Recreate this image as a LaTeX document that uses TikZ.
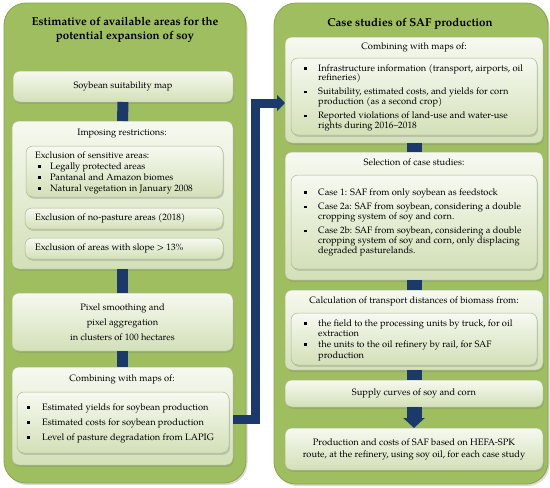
\documentclass[tikz,border=0pt]{standalone}
\usepackage{fontspec}
\setmainfont{texgyrepagella}[Extension=.otf,UprightFont=*-regular,BoldFont=*-bold,ItalicFont=*-italic,BoldItalicFont=*-bolditalic]
\usetikzlibrary{arrows.meta,shadows}
\definecolor{panelg}{HTML}{9EBE5F}
\definecolor{paneld}{HTML}{86A64B}
\definecolor{boxtop}{HTML}{F6F9F0}
\definecolor{boxbot}{HTML}{D3E0B8}
\definecolor{boxline}{HTML}{A9B98E}
\definecolor{navy}{HTML}{1B3A6B}
\newcommand{\sqb}{\rule[1.5pt]{2.6pt}{2.6pt}}
\tikzset{
  panel/.style={draw=paneld, fill=panelg, line width=0.8pt, rounded corners=22pt,
    anchor=north west, inner sep=0pt, outer sep=0pt,
    drop shadow={shadow xshift=1.5pt, shadow yshift=-2pt, opacity=0.3}},
  box/.style={draw=boxline, line width=0.5pt, top color=boxtop, bottom color=boxbot,
    rounded corners=7pt, anchor=north west, inner sep=0pt, outer sep=0pt,
    font=\fontsize{9.3}{10.5}\selectfont,
    drop shadow={shadow xshift=1pt, shadow yshift=-1.8pt, opacity=0.3}},
  ttl/.style={inner sep=0pt, align=center, font=\fontsize{11.5}{14.5}\selectfont\bfseries},
  txt/.style={inner sep=0pt, font=\fontsize{9.3}{10.5}\selectfont},
  lbar/.style={draw=navy, line width=11pt},
  rbar/.style={draw=navy, line width=15pt},
  larrow/.style={draw=navy, line width=9pt, -{Triangle[width=16pt,length=8pt]}},
  rarrow/.style={draw=navy, line width=15pt, -{Triangle[width=21pt,length=10pt]}}
}
\begin{document}
\begin{tikzpicture}[x=1pt,y=-1pt]
\useasboundingbox (0,0) rectangle (550,488);
% panels
\node[panel, minimum width=242pt, minimum height=480pt] (lp) at (4,3) {};
\node[panel, minimum width=274pt, minimum height=481pt] (rp) at (274,3) {};
\node[ttl] (lpt) at (125,30) {Estimative of available areas for the\\potential expansion of soy};
\node[ttl] (rpt) at (410,24) {Case studies of SAF production};

% left column
\node[box, minimum width=220pt, minimum height=31pt] (soy) at (13,71) {Soybean suitability map};
\node[box, minimum width=221pt, minimum height=148pt] (imp) at (12,121) {};
\node[txt] (impt) at (122,134) {Imposing restrictions:};
\node[box, minimum width=197pt, minimum height=51pt] (sens) at (26,146) {};
\node[txt, anchor=base west, font=\fontsize{9.3}{11}\selectfont] (senst) at (35,158) {%
\begin{tabular}[t]{@{}l@{}}
Exclusion of sensitive areas:\\
\hspace{3pt}\sqb\hspace{9.4pt}Legally protected areas\\
\hspace{3pt}\sqb\hspace{9.4pt}Pantanal and Amazon biomes\\
\hspace{3pt}\sqb\hspace{9.4pt}Natural vegetation in January 2008
\end{tabular}};
\node[box, minimum width=198pt, minimum height=21pt] (nop) at (25,208) {};
\node[txt, anchor=west] (nopt) at (35,218.5) {Exclusion of no-pasture areas (2018)};
\node[box, minimum width=198pt, minimum height=21pt] (slo) at (25,238) {};
\node[txt, anchor=west] (slot) at (35,248.5) {Exclusion of areas with slope > 13\%};
\node[box, minimum width=221pt, minimum height=58pt, align=center,
  font=\fontsize{9.3}{15}\selectfont] (pix) at (12,293)
  {Pixel smoothing and\\pixel aggregation\\in clusters of 100 hectares};
\node[box, minimum width=221pt, minimum height=98pt] (comb) at (12,367) {};
\node[txt] (combt) at (122,379) {Combining with maps of:};
\node[box, minimum width=212pt, minimum height=61pt] (combi) at (17,392) {};
\node[txt, anchor=base west, font=\fontsize{9.3}{10}\selectfont] (combit) at (27,410) {%
\begin{tabular}[t]{@{}l@{\hspace{12.4pt}}l@{}}
\sqb & Estimated yields for soybean production\\[5pt]
\sqb & Estimated costs for soybean production\\[5pt]
\sqb & Level of pasture degradation from LAPIG
\end{tabular}};

\draw[lbar] (soy.south) -- (imp.north);
\draw[lbar] (imp.south) -- (pix.north);
\draw[lbar] (pix.south) -- (comb.north);

% right column
\node[box, minimum width=258pt, minimum height=106pt] (rcomb) at (285,37) {};
\node[txt] (rcombt) at (414,47) {Combining with maps of:};
\node[box, minimum width=246pt, minimum height=77pt] (rcombi) at (291,58) {};
\node[txt, anchor=base west, font=\fontsize{9.3}{9.5}\selectfont] (rcombit) at (304,71) {%
\begin{tabular}[t]{@{}l@{\hspace{11.4pt}}l@{}}
\sqb & Infrastructure information (transport, airports, oil\\
 & refineries)\\[4.5pt]
\sqb & Suitability, estimated costs, and yields for corn\\
 & production (as a second crop)\\[4.5pt]
\sqb & Reported violations of land-use and water-use\\
 & rights during 2016--2018
\end{tabular}};

\node[box, minimum width=258pt, minimum height=128pt] (sel) at (285,152) {};
\node[txt] (selt) at (414,162) {Selection of case studies:};
\node[box, minimum width=246pt, minimum height=94pt] (seli) at (291,175) {};
\node[txt, anchor=base west, font=\fontsize{9.3}{9.5}\selectfont] (selit) at (304,195) {%
\begin{tabular}[t]{@{}l@{\hspace{11.4pt}}l@{}}
\sqb & Case 1: SAF from only soybean as feedstock\\[5pt]
\sqb & Case 2a: SAF from soybean, considering a double\\
 & cropping system of soy and corn.\\[5pt]
\sqb & Case 2b: SAF from soybean, considering a double\\
 & cropping system of soy and corn, only displacing\\
 & degraded pasturelands.
\end{tabular}};

\node[box, minimum width=258pt, minimum height=80pt] (calc) at (285,290) {};
\node[txt] (calct) at (414,301) {Calculation of transport distances of biomass from:};
\node[box, minimum width=246pt, minimum height=52pt] (calci) at (291,313) {};
\node[txt, anchor=base west, font=\fontsize{9.3}{10.5}\selectfont] (calcit) at (304,326) {%
\begin{tabular}[t]{@{}l@{\hspace{11.4pt}}l@{}}
\sqb & the field to the processing units by truck, for oil\\
 & extraction\\[0.5pt]
\sqb & the units to the oil refinery by rail, for SAF\\
 & production
\end{tabular}};

\node[box, minimum width=258pt, minimum height=27pt] (sup) at (285,380) {Supply curves of soy and corn};
\node[box, minimum width=258pt, minimum height=42pt, align=center,
  font=\fontsize{9.3}{12}\selectfont] (prod) at (285,428)
  {Production and costs of SAF based on HEFA-SPK\\route, at the refinery, using soy oil, for each case study};

\draw[rbar] (rcomb.south) -- (sel.north);
\draw[rbar] (sel.south) -- (calc.north);
\draw[rbar] (calc.south) -- (sup.north);
\draw[rarrow] (sup.south) -- (prod.north);

% cross connector
\draw[larrow] ([yshift=-3pt]comb.east) -- ++(22,0) |- ([yshift=-13pt]rcomb.west);
\end{tikzpicture}
\end{document}
